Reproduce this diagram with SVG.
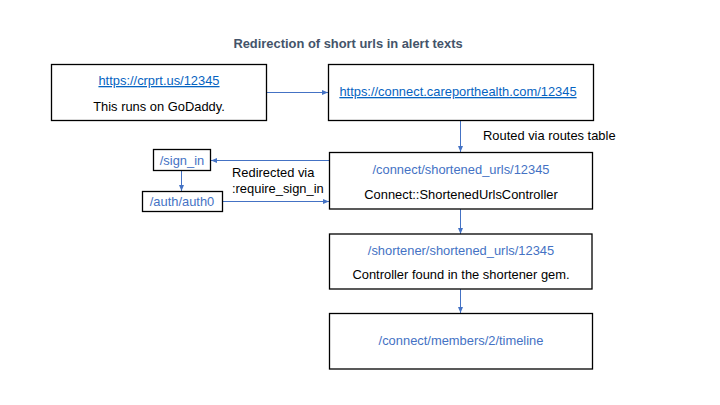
<svg xmlns="http://www.w3.org/2000/svg" width="720" height="405" viewBox="0 0 720 405">
<style>
.box{fill:#fff;stroke:#000;stroke-width:1.3}
.t{font-family:"Liberation Sans",Arial,sans-serif;font-size:12.9px;text-anchor:middle}
.blk{fill:#000}
.blue{fill:#4472C4}
.link{fill:#0563C1;text-decoration:underline}
.lbl{font-family:"Liberation Sans",Arial,sans-serif;font-size:12.9px;fill:#000}
.title{font-family:"Liberation Sans",Arial,sans-serif;font-size:12.9px;font-weight:bold;fill:#44546A;text-anchor:middle}
.c{stroke:#4472C4;stroke-width:1;fill:none;marker-end:url(#ah)}
</style>
<defs>
<marker id="ah" viewBox="0 0 6 6" refX="6" refY="3" markerWidth="6" markerHeight="6" markerUnits="userSpaceOnUse" orient="auto">
<path d="M0,0.5 L6,3 L0,5.5 Z" fill="#4472C4"/>
</marker>
</defs>
<rect width="720" height="405" fill="#fff"/>
<text class="title" x="348" y="48">Redirection of short urls in alert texts</text>
<g id="connectors">
<line class="c" x1="267" y1="92.5" x2="328" y2="92.5"/>
<line class="c" x1="460.5" y1="120" x2="460.5" y2="152"/>
<line class="c" x1="329" y1="160.5" x2="211" y2="160.5"/>
<line class="c" x1="181.5" y1="171" x2="181.5" y2="191"/>
<line class="c" x1="223" y1="201.5" x2="329" y2="201.5"/>
<line class="c" x1="460.5" y1="209" x2="460.5" y2="234"/>
<line class="c" x1="460.5" y1="289" x2="460.5" y2="313"/>
<text class="lbl" x="483" y="140">Routed via routes table</text>
<text class="lbl" x="232" y="177">Redirected via</text>
<text class="lbl" x="232" y="193">:require_sign_in</text>
</g>
<g id="n1">
<rect class="box" x="51.5" y="64.5" width="215" height="56"/>
<text class="t link" x="159" y="85">https://crprt.us/12345</text>
<text class="t blk" x="159" y="111">This runs on GoDaddy.</text>
</g>
<g id="n2">
<rect class="box" x="328.5" y="64.5" width="265" height="56"/>
<text class="t link" x="458" y="96">https://connect.careporthealth.com/12345</text>
</g>
<g id="n3">
<rect class="box" x="329.5" y="152.5" width="263" height="56.5"/>
<text class="t blue" x="461" y="174">/connect/shortened_urls/12345</text>
<text class="t blk" x="461" y="199">Connect::ShortenedUrlsController</text>
</g>
<g id="n_signin">
<rect class="box" x="153.5" y="149.5" width="57" height="21"/>
<text class="t blue" x="182" y="165">/sign_in</text>
</g>
<g id="n_auth">
<rect class="box" x="142.5" y="191.5" width="80" height="20"/>
<text class="t blue" x="182" y="206">/auth/auth0</text>
</g>
<g id="n4">
<rect class="box" x="329.5" y="234" width="262.5" height="55"/>
<text class="t blue" x="461" y="255">/shortener/shortened_urls/12345</text>
<text class="t blk" x="461" y="279">Controller found in the shortener gem.</text>
</g>
<g id="n5">
<rect class="box" x="329.5" y="313.5" width="263" height="55.5"/>
<text class="t blue" x="461" y="345">/connect/members/2/timeline</text>
</g>
</svg>
